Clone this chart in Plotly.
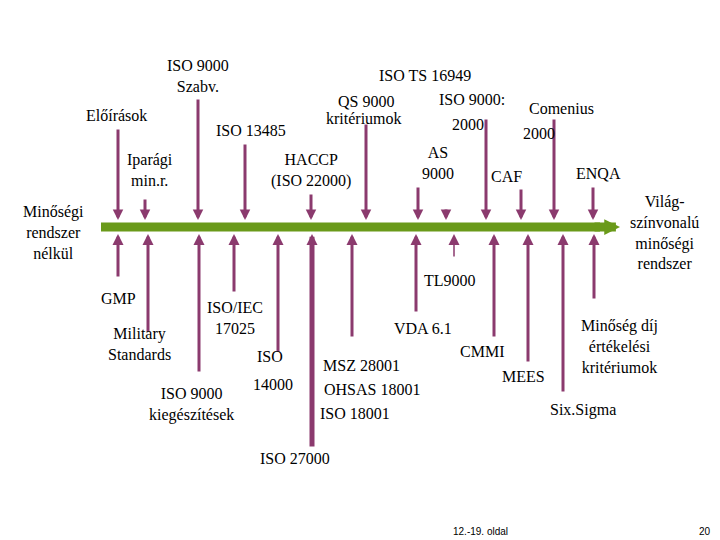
import plotly.graph_objects as go

# top arrows (pointing down to timeline): x, start y
top_x = [110, 137, 190, 237, 303, 358, 410, 438, 478, 513, 546, 585]
top_y0 = [120, 190, 90, 135, 185, 115, 178, 200, 110, 180, 110, 178]
# bottom arrows (pointing up to timeline): x, start y
bot_x = [110, 140, 191, 226, 270, 304, 344, 408, 446, 486, 520, 555, 586]
bot_y0 = [270, 325, 365, 285, 345, 440, 330, 305, 250, 330, 355, 385, 292]
bot_w = [3, 3, 3, 3, 3, 5, 3, 3, 1.5, 3, 3, 3, 3]

labels = [
    ("ISO 9000<br>Szabv.", 190, 68), ("Előírások", 108, 107), ("Iparági<br>min.r.", 142, 162),
    ("ISO 13485", 243, 122), ("HACCP<br>(ISO 22000)", 303, 162), ("ISO TS 16949", 417, 67),
    ("QS 9000", 358, 93), ("ISO 9000:", 464, 91), ("kritériumok", 356, 110), ("2000", 460, 116),
    ("Comenius", 553, 100), ("2000", 531, 125), ("AS<br>9000", 430, 155), ("CAF", 498, 168),
    ("ENQA", 590, 165), ("Minőségi<br>rendszer<br>nélkül", 45, 224),
    ("Világ-<br>színvonalú<br>minőségi<br>rendszer", 656, 224),
    ("TL9000", 442, 272), ("GMP", 110, 290), ("ISO/IEC<br>17025", 227, 310),
    ("Military<br>Standards", 131, 336), ("VDA 6.1", 415, 320), ("CMMI", 474, 343),
    ("ISO", 262, 348), ("MSZ 28001", 353, 357), ("MEES", 515, 368), ("14000", 265, 376),
    ("OHSAS 18001", 364, 381), ("ISO 9000<br>kiegészítések", 183, 396), ("ISO 18001", 347, 405),
    ("Minőség díj<br>értékelési<br>kritériumok", 611, 338), ("Six.Sigma", 575, 402),
    ("ISO 27000", 287, 450),
]

purple = "#8B3A6E"
green = "#6A9A1A"
serif = "Liberation Serif, DejaVu Serif, Times New Roman, serif"
fig = go.Figure()
fig.add_trace(go.Scatter(x=[93, 592], y=[219, 219], mode="lines",
                         line=dict(color=green, width=9), hoverinfo="skip"))
ann = []
ann.append(dict(x=612, y=219, ax=585, ay=219, xref="x", yref="y", axref="x", ayref="y",
                showarrow=True, arrowhead=2, arrowsize=0.35, arrowwidth=9, arrowcolor=green, text=""))
for x, y0 in zip(top_x, top_y0):
    ann.append(dict(x=x, y=212, ax=x, ay=y0, xref="x", yref="y", axref="x", ayref="y",
                    showarrow=True, arrowhead=2, arrowsize=0.7, arrowwidth=3, arrowcolor=purple, text=""))
for x, y0, w in zip(bot_x, bot_y0, bot_w):
    ann.append(dict(x=x, y=226, ax=x, ay=y0, xref="x", yref="y", axref="x", ayref="y",
                    showarrow=True, arrowhead=2, arrowsize=2.2 / w, arrowwidth=w,
                    arrowcolor=purple, text=""))
for t, x, y in labels:
    ann.append(dict(x=x, y=y, xref="x", yref="y", text=t, showarrow=False,
                    font=dict(family=serif, size=16, color="black")))
ann.append(dict(x=472, y=523, xref="x", yref="y", text="12.-19. oldal", showarrow=False,
                font=dict(family="Liberation Sans", size=10, color="black")))
ann.append(dict(x=697, y=523, xref="x", yref="y", text="20", showarrow=False,
                font=dict(family="Liberation Sans", size=10, color="black")))
fig.update_layout(width=720, height=540, margin=dict(l=0, r=0, t=0, b=0),
                  plot_bgcolor="white", paper_bgcolor="white", showlegend=False,
                  annotations=ann, font=dict(family=serif),
                  xaxis=dict(range=[0, 720], visible=False),
                  yaxis=dict(range=[540, 0], visible=False))
fig.write_html("out.html")
